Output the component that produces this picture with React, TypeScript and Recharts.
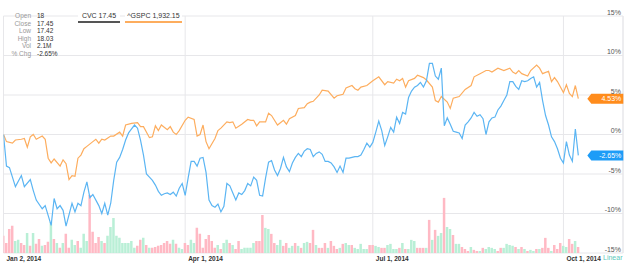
import {
  ComposedChart,
  Bar,
  Line,
  XAxis,
  YAxis,
  CartesianGrid,
  ReferenceLine,
  ReferenceDot,
  Cell
} from 'recharts'

const W = 628
const H = 267
const FONT = '"Liberation Sans", Arial, sans-serif'

// trading-day index of the x ticks and their labels
const TICK_IDX = [0, 61, 124, 188]
const TICK_LABELS = ['Jan 2, 2014', 'Apr 1, 2014', 'Jul 1, 2014', 'Oct 1, 2014']
const PCT_TICKS = [-15, -10, -5, 0, 5, 10, 15]

// [trading day, % change]
const CVC: [number, number][] = [
  [0, 0], [1, -4.0], [2, -4.2], [3, -5.4], [4, -6.6], [6, -5.2], [7, -6.6], [9, -5.7], [10, -7.1], [11, -8.3],
  [13, -9.4], [14, -9.0], [16, -11.5], [17, -8.1], [18, -9.4], [19, -9.0], [20, -9.6], [21, -11.6], [23, -8.7], [24, -9.8],
  [25, -8.7], [26, -9.0], [27, -7.3], [28, -6.0], [29, -8.0], [30, -7.6], [32, -9.0], [33, -10.0], [34, -8.7], [35, -10.2],
  [36, -8.7], [37, -5.8], [38, -3.5], [39, -2.9], [40, -1.9], [41, -0.7], [42, 0.2], [43, 0.7], [44, 1.2], [45, 0.8],
  [46, -0.7], [47, -2.6], [48, -5.0], [49, -5.4], [50, -5.8], [51, -6.4], [52, -7.2], [53, -7.7], [54, -7.5], [55, -7.4],
  [56, -7.6], [57, -7.3], [58, -7.8], [59, -6.8], [60, -6.2], [61, -7.7], [62, -5.5], [63, -3.4], [64, -3.4], [65, -4.0],
  [66, -3.0], [67, -2.9], [68, -4.8], [69, -8.3], [70, -9.0], [71, -9.2], [72, -8.8], [73, -9.8], [74, -9.1], [75, -6.2],
  [76, -6.5], [77, -7.4], [78, -8.3], [79, -7.4], [80, -7.6], [81, -7.1], [82, -6.2], [83, -6.5], [84, -5.4], [85, -5.8],
  [86, -7.7], [87, -7.8], [88, -5.5], [89, -3.5], [90, -3.3], [91, -4.5], [92, -5.2], [93, -4.3], [94, -2.9], [95, -4.1],
  [96, -4.7], [97, -3.6], [98, -2.9], [99, -2.4], [100, -2.8], [101, -2.1], [102, -1.8], [103, -1.9], [104, -2.8], [105, -2.4],
  [106, -2.2], [107, -2.5], [108, -3.4], [109, -3.4], [110, -3.6], [111, -4.1], [112, -4.8], [113, -4.0], [114, -4.8], [115, -3.0],
  [116, -3.0], [117, -2.9], [118, -2.8], [119, -2.8], [120, -2.6], [121, -1.9], [122, -1.1], [123, -1.6], [124, -1.0], [125, 0.3],
  [126, 1.7], [127, 0.5], [128, -1.4], [129, -0.3], [130, 0.9], [131, 0.3], [132, 2.2], [133, 1.4], [134, 2.8], [135, 2.6],
  [136, 4.7], [137, 5.5], [138, 6.0], [139, 6.2], [140, 6.6], [141, 6.0], [142, 6.8], [143, 9.0], [144, 9.0], [145, 7.4],
  [146, 7.0], [147, 8.4], [148, 1.1], [149, 2.1], [150, 1.3], [151, 0.4], [152, 0.3], [153, 0.2], [154, -0.5], [155, 1.2],
  [156, 1.6], [157, 2.1], [158, 2.8], [159, 2.3], [160, 2.5], [161, 2.0], [162, 0.0], [163, 1.6], [164, 2.1], [165, 2.2],
  [166, 3.1], [167, 3.6], [168, 4.3], [169, 5.0], [170, 6.7], [171, 6.7], [172, 6.1], [173, 5.7], [174, 6.8], [175, 6.7],
  [176, 6.8], [177, 7.1], [178, 7.3], [179, 6.0], [180, 6.6], [181, 4.3], [182, 2.4], [183, 1.2], [184, -0.3], [185, -0.9],
  [186, -1.8], [187, -3.0], [188, -3.6], [189, -0.9], [190, -2.6], [191, -3.4], [192, 0.7], [193, -2.65]
]

const GSPC: [number, number][] = [
  [0, 0], [1, -0.9], [3, -1.1], [4, -0.7], [6, -0.6], [7, -0.5], [8, -1.6], [9, -0.3], [10, 0.0], [11, -0.6],
  [13, -0.2], [14, -0.6], [15, -3.0], [16, -3.6], [17, -3.1], [19, -4.0], [20, -3.2], [21, -3.7], [22, -5.7], [23, -5.2],
  [24, -5.3], [25, -3.0], [26, -2.6], [27, -1.8], [28, -1.5], [30, -0.9], [31, -0.6], [32, -1.1], [33, -0.6], [34, -0.7],
  [36, -0.2], [37, -0.2], [39, 0.3], [40, -0.2], [41, 1.2], [43, 1.4], [45, 1.5], [46, 1.0], [47, 1.0], [49, -0.4],
  [50, -0.3], [51, 1.1], [52, 0.5], [53, 1.2], [55, 0.6], [56, 1.0], [57, 0.3], [58, 0.0], [59, 0.5], [61, 1.8],
  [62, 2.2], [64, 1.9], [65, -0.2], [66, 0.0], [67, 1.2], [68, -0.9], [69, -1.8], [71, -0.5], [72, 0.5], [73, 0.8],
  [75, 1.6], [76, 1.5], [77, 1.6], [78, 0.8], [80, 1.3], [82, 1.9], [83, 1.8], [84, 1.8], [85, 1.1], [86, 1.6],
  [88, 1.6], [89, 2.7], [90, 2.4], [92, 1.2], [94, 1.8], [95, 1.3], [96, 2.0], [98, 2.4], [99, 3.3], [101, 3.4],
  [102, 3.9], [103, 4.1], [104, 4.2], [106, 5.0], [107, 5.6], [109, 5.5], [111, 4.6], [112, 4.9], [114, 5.1], [115, 5.9],
  [117, 6.2], [118, 5.8], [119, 5.6], [120, 6.0], [122, 6.2], [124, 6.8], [126, 7.3], [128, 6.3], [129, 6.7], [131, 6.5],
  [132, 7.0], [133, 6.8], [134, 7.1], [135, 6.0], [136, 6.8], [138, 7.1], [139, 7.5], [141, 7.2], [142, 6.9], [144, 6.0],
  [145, 4.3], [146, 4.1], [147, 4.8], [149, 4.1], [150, 3.3], [151, 4.6], [153, 4.8], [155, 5.7], [157, 6.2], [158, 7.3],
  [160, 7.7], [162, 8.1], [163, 8.1], [164, 7.9], [166, 8.4], [168, 8.1], [170, 8.4], [171, 7.9], [172, 7.7], [173, 8.1],
  [174, 7.7], [176, 7.4], [177, 8.1], [179, 8.8], [180, 8.4], [181, 7.7], [183, 8.0], [184, 6.7], [185, 7.2], [186, 6.7],
  [188, 5.3], [189, 6.3], [190, 5.2], [191, 4.8], [192, 6.2], [193, 4.53]
]

// CVC daily volume, millions
const VOLUME = [
  6.0, 3.5, 8.4, 9.5, 4.2, 4.6, 3.5, 2.8, 7.0, 2.5,
  7.0, 3.2, 4.9, 2.5, 2.8, 3.9, 10.9, 4.9, 3.5, 1.8,
  3.5, 6.7, 1.8, 4.6, 2.8, 4.2, 1.8, 6.7, 4.2, 20.3,
  7.4, 3.5, 5.6, 4.2, 3.5, 6.0, 9.1, 12.3, 6.0, 5.3,
  3.5, 3.5, 3.5, 4.2, 1.8, 2.5, 4.6, 5.3, 2.8, 1.8,
  1.8, 2.1, 2.5, 2.8, 3.5, 4.2, 3.2, 4.6, 3.2, 1.8,
  1.4, 3.5, 2.8, 4.6, 3.5, 8.8, 6.7, 1.8, 4.9, 6.3,
  4.2, 1.8, 2.8, 1.4, 3.5, 4.6, 3.5, 2.8, 1.4, 4.2,
  1.4, 1.8, 1.8, 1.8, 3.5, 4.2, 4.2, 13.3, 8.8, 8.4,
  6.7, 3.5, 2.8, 4.6, 2.5, 3.5, 1.8, 2.5, 3.5, 2.5,
  1.8, 3.5, 3.9, 3.5, 8.1, 2.8, 1.8, 1.8, 3.5, 1.8,
  4.2, 2.5, 1.4, 1.8, 3.2, 3.5, 2.8, 2.8, 1.8, 1.4,
  3.2, 1.4, 1.4, 2.8, 2.8, 2.5, 2.1, 1.8, 1.8, 2.8,
  3.2, 1.4, 1.4, 1.8, 3.5, 1.4, 1.4, 4.6, 4.2, 1.8,
  1.8, 1.8, 1.8, 11.6, 4.6, 8.1, 6.0, 7.0, 19.3, 9.1,
  8.4, 6.3, 3.2, 3.2, 2.1, 1.4, 0.7, 2.1, 1.1, 0.7,
  0.7, 1.8, 1.4, 2.1, 1.8, 1.4, 0.7, 1.8, 1.8, 3.2,
  2.8, 2.5, 2.1, 1.4, 2.1, 1.4, 0.7, 1.1, 0.7, 1.4,
  1.4, 1.8, 5.3, 1.8, 0.7, 2.8, 1.4, 3.5, 2.5, 2.1,
  4.9, 3.2, 4.2, 2.1
]

// g = up day, p = down day
const DIR = (
  'ppppggppgp' + 'gppgppgpgp' + 'gppggpgggp' + 'pppgpggggg' + 'gggggppgpg' +
  'pppppppgpg' + 'gppggppppp' + 'ppgpggpgpp' + 'gggggpppgg' + 'ppggppggpg' +
  'pggppgpppg' + 'pppgpggpgg' + 'gggppggppg' + 'gggpgpgggp' + 'ppgpgpggpg' +
  'gpggpppgpp' + 'gpggggppgg' + 'ggpgpgpggp' + 'gpppgpppgg' + 'ppgp'
).split('')

const INFO = [
  ['Open', '18'],
  ['Close', '17.45'],
  ['Low', '17.42'],
  ['High', '18.03'],
  ['Vol', '2.1M'],
  ['% Chg', '-2.65%']
]

const ORANGE = '#fdad5e'
const BLUE = '#5bb5f3'
const GRID = '#e7e7ea'

const cvcMap = new Map(CVC)
const gspcMap = new Map(GSPC)
const rows = VOLUME.map((v, i) => ({
  i,
  vol: v,
  cvc: cvcMap.get(i),
  gspc: gspcMap.get(i)
}))

const lastCvc = CVC[CVC.length - 1]
const lastGspc = GSPC[GSPC.length - 1]

function XTick(props: any) {
  const { x, y, payload } = props
  const label = TICK_LABELS[TICK_IDX.indexOf(payload.value)]
  return (
    <text x={x + 3} y={y + 8} textAnchor="start" fontSize={6.5} fontWeight="bold" fill="#333">
      {label}
    </text>
  )
}

function YTick(props: any) {
  const { y, payload } = props
  return (
    <text x={W - 7} y={y - 1.5} textAnchor="end" fontSize={7} fill="#555">
      {payload.value}%
    </text>
  )
}

function tagShape(color: string, text: string) {
  return (props: any) => {
    const { cx, cy } = props
    const x0 = cx + 9
    const pts = `${x0},${cy} ${x0 + 4},${cy - 5} ${x0 + 36},${cy - 5} ${x0 + 36},${cy + 5} ${x0 + 4},${cy + 5}`
    return (
      <g>
        <polygon points={pts} fill={color} />
        <text x={x0 + 34} y={cy + 2.5} textAnchor="end" fontSize={7} fill="#fff">
          {text}
        </text>
      </g>
    )
  }
}

export default function App() {
  return (
    <div style={{ position: 'relative', width: W, height: H, fontFamily: FONT, background: '#fff' }}>
      <style>{'body{margin:0}'}</style>
      <ComposedChart width={W} height={H} data={rows} margin={{ top: 16, right: 5, bottom: 0, left: 3.5 }}>
        <CartesianGrid yAxisId="pct" stroke={GRID} strokeWidth={1} />
        <XAxis
          dataKey="i"
          type="number"
          domain={[0, 208]}
          ticks={TICK_IDX}
          interval={0}
          tick={<XTick />}
          axisLine={false}
          tickLine={false}
          tickSize={0}
          tickMargin={0}
          height={14}
          allowDataOverflow
        />
        <YAxis
          yAxisId="pct"
          orientation="right"
          mirror
          domain={[-15, 15]}
          ticks={PCT_TICKS}
          interval={0}
          tick={<YTick />}
          axisLine={false}
          tickLine={false}
          tickSize={0}
          tickMargin={0}
        />
        <YAxis yAxisId="vol" hide domain={[0, 83]} />
        <ReferenceLine yAxisId="pct" x={208} stroke={GRID} />
        <Bar yAxisId="vol" dataKey="vol" barSize={2.5} isAnimationActive={false}>
          {rows.map((r) => (
            <Cell key={r.i} fill={DIR[r.i] === 'g' ? '#b9efd6' : '#ffb9c4'} />
          ))}
        </Bar>
        <Line
          yAxisId="pct"
          dataKey="gspc"
          type="linear"
          stroke={ORANGE}
          strokeWidth={1.2}
          dot={false}
          connectNulls
          isAnimationActive={false}
        />
        <Line
          yAxisId="pct"
          dataKey="cvc"
          type="linear"
          stroke={BLUE}
          strokeWidth={1.2}
          dot={false}
          connectNulls
          isAnimationActive={false}
        />
        <ReferenceDot
          yAxisId="pct"
          x={lastGspc[0]}
          y={lastGspc[1]}
          shape={tagShape('#ff8c1c', `${lastGspc[1].toFixed(2)}%`)}
        />
        <ReferenceDot
          yAxisId="pct"
          x={lastCvc[0]}
          y={lastCvc[1]}
          shape={tagShape('#1d9cf7', `${lastCvc[1].toFixed(2)}%`)}
        />
      </ComposedChart>

      <div style={{ position: 'absolute', left: 0, top: 12, fontSize: 6.5, lineHeight: '7.6px' }}>
        {INFO.map(([k, v]) => (
          <div key={k} style={{ display: 'flex' }}>
            <span style={{ width: 31, textAlign: 'right', color: '#999' }}>{k}</span>
            <span style={{ marginLeft: 6, color: '#333' }}>{v}</span>
          </div>
        ))}
      </div>

      <div
        style={{
          position: 'absolute', left: 78, top: 8, width: 42, height: 13, boxSizing: 'content-box',
          borderBottom: '2px solid #555', background: '#fff', fontSize: 7, color: '#333',
          textAlign: 'center', lineHeight: '15px'
        }}
      >
        CVC 17.45
      </div>
      <div
        style={{
          position: 'absolute', left: 125, top: 8, width: 57, height: 13, boxSizing: 'content-box',
          borderBottom: '2px solid ' + ORANGE, background: '#fff', fontSize: 7, color: '#333',
          textAlign: 'center', lineHeight: '15px'
        }}
      >
        ^GSPC 1,932.15
      </div>
      <div style={{ position: 'absolute', left: 603, top: 254, fontSize: 7, color: '#5cc9bb' }}>Linear</div>
    </div>
  )
}
